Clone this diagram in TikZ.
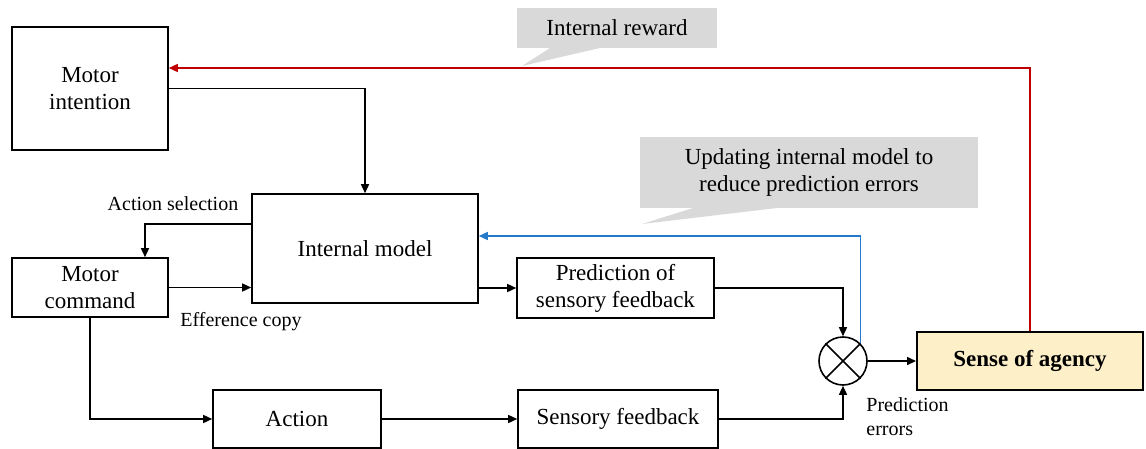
\documentclass[tikz,border=0pt]{standalone}
\usepackage{fontspec}
\setmainfont{Liberation Serif}
\usepackage{xcolor}
\usepackage{tikz}
\usetikzlibrary{arrows.meta}
\definecolor{rewardred}{RGB}{192,0,0}
\definecolor{updateblue}{RGB}{38,120,200}
\definecolor{notegray}{RGB}{217,217,217}
\definecolor{agencyfill}{RGB}{253,240,201}

\begin{document}
\begin{tikzpicture}[x=0.5pt,y=-0.5pt,
    blk/.style={draw,line width=0.8pt,align=center,inner sep=0pt,
      font=\fontsize{11.5}{13.5}\selectfont},
    lbl/.style={inner sep=0pt,font=\fontsize{10}{12}\selectfont},
    note/.style={fill=notegray,align=center,inner sep=0pt,
      font=\fontsize{11.5}{13.5}\selectfont},
    line/.style={line width=0.75pt},
    arr/.style={line,-{Triangle[length=4.5pt,width=4pt]}}]
  \useasboundingbox (0,0) rectangle (1146,449);

  % boxes
  \node[blk,minimum width=78pt,minimum height=61.5pt] (intent) at (90,88.5) {Motor\\intention};
  \node[blk,minimum width=113pt,minimum height=54.5pt] (model) at (365,248.5) {Internal model};
  \node[blk,minimum width=78pt,minimum height=29.5pt] (cmd) at (90,287.5) {Motor\\command};
  \node[blk,minimum width=98.5pt,minimum height=30pt] (pred) at (615.5,288) {Prediction of\\sensory feedback};
  \node[blk,minimum width=84pt,minimum height=29pt] (act) at (297,419) {Action};
  \node[blk,minimum width=100pt,minimum height=29pt] (sens) at (618,419) {Sensory feedback};
  \node[blk,line width=1pt,fill=agencyfill,minimum width=113pt,minimum height=29pt,
    font=\fontsize{11.5}{13.5}\selectfont\bfseries] (soa) at (1030,361) {Sense of agency};
  \node[draw,line width=0.8pt,circle,minimum size=24pt,inner sep=0pt] (cross) at (843,361) {};
  \draw[line] (cross.north west) -- (cross.south east);
  \draw[line] (cross.north east) -- (cross.south west);

  % labels
  \node[lbl] (sel) at (173,204) {Action selection};
  \node[lbl] (eff) at (241,322) {Efference copy};
  \node[lbl,align=left,anchor=north west] (err) at (866,397) {Prediction\\errors};

  % callouts
  \node[note,minimum width=100pt,minimum height=20pt] (rewardnote) at (617,28) {Internal reward};
  \fill[notegray] (550,48) -- (600,48) -- (522,66) -- cycle;
  \node[note,minimum width=169pt,minimum height=35.5pt] (updatenote) at (809,172.5)
    {Updating internal model to\\reduce prediction errors};
  \fill[notegray] (693,208) -- (777,208) -- (642,224) -- cycle;

  % connectors
  \draw[arr] (intent.east) -| (model.north);
  \draw[arr] ([yshift=12.25pt]model.west) -| ([xshift=27.5pt]cmd.north);
  \draw[arr] (cmd.east) -- (cmd.east -| model.west);
  \draw[arr] (cmd.south) |- (act.west);
  \draw[arr] (act.east) -- (sens.west);
  \draw[arr] (sens.east) -| (cross.south);
  \draw[arr] (model.east |- pred.west) -- (pred.west);
  \draw[arr] (pred.east) -| (cross.north);
  \draw[arr] (cross.east) -- (soa.west);
  \draw[arr,updateblue] (cross.north east) |- ([yshift=6.25pt]model.east);
  \draw[arr,rewardred] (soa.north) |- ([yshift=10.25pt]intent.east);
\end{tikzpicture}
\end{document}
